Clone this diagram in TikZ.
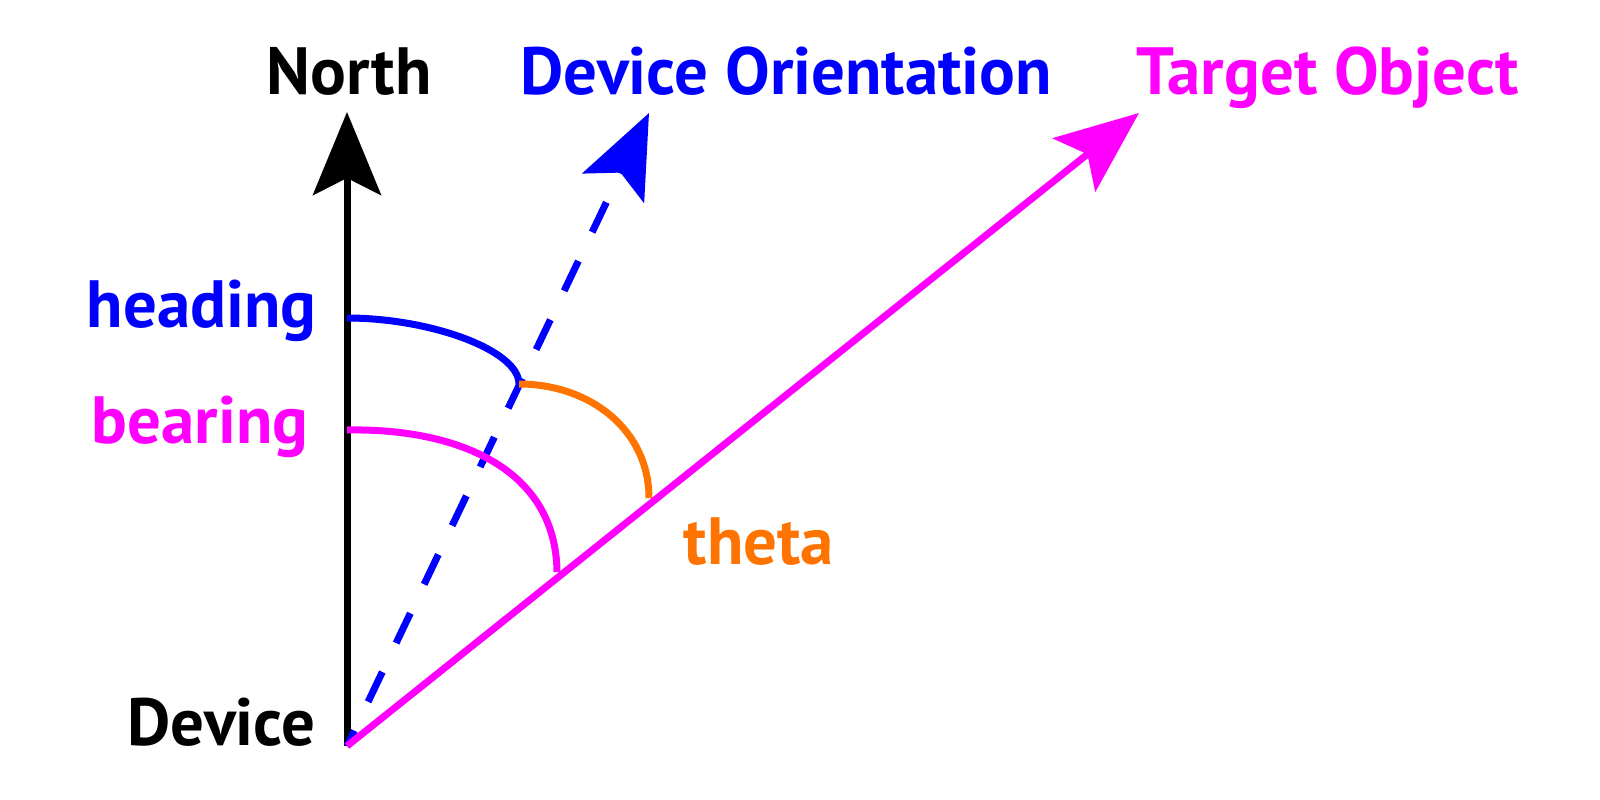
\documentclass[tikz,border=0pt]{standalone}
\usepackage{fontspec}
\setmainfont{PT Sans}
\usetikzlibrary{arrows.meta}
\definecolor{cblue}{RGB}{0,0,255}
\definecolor{cmag}{RGB}{255,0,255}
\definecolor{corange}{RGB}{255,115,0}
\tikzset{
  lbl/.style={anchor=base west, inner sep=0pt, font=\bfseries\fontsize{19}{21}\selectfont},
  vec/.style={line width=0.07cm, -{Stealth[length=0.83cm, width=0.68cm, inset=0.17cm]}},
  arcline/.style={line width=0.07cm},
}
\begin{document}
\begin{tikzpicture}[x=0.01cm, y=-0.01cm]
\useasboundingbox (0,0) rectangle (1600,800);
\coordinate (O) at (347,746);
\coordinate (N) at (347,112);
\coordinate (D) at (649,113);
\coordinate (T) at (1139,113);
\coordinate (H0) at (347,318);
\coordinate (H1) at (519,384);
\coordinate (B0) at (347,430);
\coordinate (B1) at (557,572);
\coordinate (R1) at (649,498);
% vectors
\draw[vec, black] (O) -- (N);
\draw[vec, cblue, dash pattern=on 0.33cm off 0.32cm, dash phase=0.16cm] (O) -- (D);
\draw[vec, cmag] (O) -- (T);
% arcs
\draw[arcline, cblue] (H0) .. controls (430,318) and (519,350) .. (H1);
\draw[arcline, corange] (H1) .. controls (590,384) and (649,430) .. (R1);
\draw[arcline, cmag] (B0) .. controls (460,428) and (556,470) .. (B1);
% labels
\node[lbl, black] (north) at (266,94) {North};
\node[lbl, cblue] (dorient) at (520,94) {Device Orientation};
\node[lbl, cmag] (target) at (1136,94) {Target Object};
\node[lbl, cblue] (heading) at (86,327) {heading};
\node[lbl, cmag] (bearing) at (91,443) {bearing};
\node[lbl, corange] (theta) at (683,564) {theta};
\node[lbl, black] (device) at (127,745) {Device};
\end{tikzpicture}
\end{document}
